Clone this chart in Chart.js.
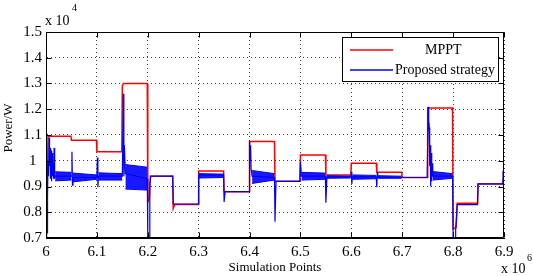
<!DOCTYPE html>
<html><head><meta charset="utf-8">
<script src="https://cdn.jsdelivr.net/npm/chart.js@4.4.1/dist/chart.umd.min.js"></script>
<style>html,body{margin:0;padding:0;background:#fff;overflow:hidden}</style>
</head><body>
<canvas id="c" width="533" height="276"></canvas>
<script>
// ---- data (x in units of 1e6 simulation points, y in units of 1e4 W) ----
const xTicks = [6.0, 6.1, 6.2, 6.3, 6.4, 6.5, 6.6, 6.7, 6.8, 6.9];
const yTicks = [0.7, 0.8, 0.9, 1.0, 1.1, 1.2, 1.3, 1.4, 1.5];
const seriesNames = ['MPPT', 'Proposed strategy'];
const xTitle = 'Simulation Points';
const yTitle = 'Power/W';

const mpptX = [6.002, 6.004, 6.049, 6.050, 6.099, 6.100, 6.149, 6.150, 6.152, 6.199,
               6.200, 6.203, 6.205, 6.249, 6.250, 6.253, 6.299, 6.300, 6.349, 6.350,
               6.399, 6.400, 6.449, 6.450, 6.499, 6.500, 6.549, 6.550, 6.599, 6.600,
               6.649, 6.650, 6.699, 6.700, 6.749, 6.750, 6.799, 6.800, 6.806, 6.808,
               6.848, 6.849, 6.897, 6.899, 6.900];
const mpptY = [0.88, 1.095, 1.095, 1.08, 1.08, 1.035, 1.035, 1.29, 1.30, 1.30,
               0.84, 0.85, 0.94, 0.94, 0.815, 0.83, 0.83, 0.96, 0.96, 0.88,
               0.88, 1.075, 1.075, 0.92, 0.92, 1.022, 1.022, 0.945, 0.945, 0.99,
               0.99, 0.955, 0.955, 0.935, 0.935, 1.205, 1.205, 0.735, 0.74, 0.835,
               0.835, 0.91, 0.91, 0.93, 0.93];

const propX = [6.000, 6.001, 6.0015, 6.002, 6.003, 6.004, 6.005, 6.006, 6.007, 6.008,
               6.009, 6.010, 6.011, 6.012, 6.013, 6.014, 6.015, 6.016, 6.017, 6.018,
               6.050, 6.051, 6.052, 6.053, 6.100, 6.101, 6.102, 6.103, 6.150, 6.152,
               6.153, 6.154, 6.156, 6.199, 6.200, 6.203, 6.204, 6.206, 6.249, 6.250,
               6.299, 6.300, 6.349, 6.350, 6.352, 6.399, 6.400, 6.401, 6.402, 6.403,
               6.405, 6.449, 6.450, 6.452, 6.499, 6.500, 6.502, 6.549, 6.550, 6.552,
               6.599, 6.600, 6.601, 6.602, 6.649, 6.650, 6.651, 6.652, 6.700, 6.749,
               6.751, 6.752, 6.753, 6.754, 6.755, 6.756, 6.757, 6.758, 6.759, 6.760,
               6.799, 6.800, 6.804, 6.805, 6.806, 6.808, 6.848, 6.849, 6.897, 6.898,
               6.900];
const propY = [0.70, 0.70, 1.02, 0.72, 0.86, 1.00, 0.94, 1.09, 0.98, 1.05,
               0.93, 1.04, 0.92, 1.03, 0.94, 0.99, 0.93, 1.05, 0.93, 0.94,
               0.94, 1.035, 0.905, 0.935, 0.935, 1.013, 0.897, 0.94, 0.94, 1.26,
               0.94, 1.06, 0.95, 0.93, 0.70, 0.70, 0.905, 0.94, 0.94, 0.832,
               0.832, 0.945, 0.945, 0.84, 0.88, 0.88, 1.078, 1.00, 1.06, 0.97,
               0.94, 0.935, 0.763, 0.92, 0.92, 0.996, 0.94, 0.94, 0.837, 0.937,
               0.937, 0.957, 0.91, 0.937, 0.937, 0.897, 0.955, 0.937, 0.935, 0.935,
               1.21, 1.12, 1.13, 0.98, 1.06, 0.90, 1.03, 0.92, 0.99, 0.94,
               0.94, 0.70, 0.70, 0.74, 0.76, 0.83, 0.83, 0.91, 0.91, 0.96,
               0.93];

// oscillation envelopes of the proposed strategy (start/end of each band)
const bandStart   = [6.018, 6.053, 6.103, 6.156, 6.300, 6.405, 6.502, 6.552, 6.602, 6.652, 6.760];
const bandEnd     = [6.050, 6.100, 6.150, 6.199, 6.349, 6.449, 6.549, 6.599, 6.649, 6.699, 6.799];
const bandHiStart = [0.957, 0.952, 0.953, 0.985, 0.950, 0.962, 0.955, 0.942, 0.945, 0.942, 0.958];
const bandHiEnd   = [0.955, 0.945, 0.950, 0.975, 0.948, 0.950, 0.952, 0.940, 0.943, 0.940, 0.950];
const bandLoStart = [0.922, 0.918, 0.925, 0.890, 0.933, 0.912, 0.925, 0.932, 0.928, 0.932, 0.925];
const bandLoEnd   = [0.925, 0.928, 0.925, 0.886, 0.935, 0.925, 0.928, 0.933, 0.930, 0.932, 0.932];

// ---- build ----
const SERIF = '"Liberation Serif", "Times New Roman", serif';
const RED = '#ff0000', BLUE = '#0000ff';
const pts = (xs, ys) => xs.map((x, i) => ({x: x, y: ys[i]}));
const fmt = v => String(Number(v.toFixed(2)));

const datasets = [
  {label: seriesNames[0], data: pts(mpptX, mpptY), borderColor: RED, borderWidth: 1.5, order: 3},
  {label: seriesNames[1], data: pts(propX, propY), borderColor: BLUE, borderWidth: 1.2, order: 1}
];
bandStart.forEach((s, i) => {
  datasets.push({label: '_hi' + i, data: [{x: s, y: bandHiStart[i]}, {x: bandEnd[i], y: bandHiEnd[i]}],
    borderColor: BLUE, borderWidth: 1, fill: false, order: 2});
  datasets.push({label: '_lo' + i, data: [{x: s, y: bandLoStart[i]}, {x: bandEnd[i], y: bandLoEnd[i]}],
    borderColor: BLUE, borderWidth: 1, fill: '-1', backgroundColor: 'rgba(0,0,255,0.9)', order: 2});
});

const deco = {
  id: 'deco',
  afterDatasetsDraw(chart) {
    const {ctx, chartArea: a, scales: {x, y}} = chart;
    ctx.save();
    ctx.strokeStyle = '#000';
    ctx.lineWidth = 1;
    const L = Math.round(a.left) + 0.5, R = Math.round(a.right) - 0.5;
    const T = Math.round(a.top) + 0.5, B = Math.round(a.bottom) - 0.5;
    ctx.beginPath();
    ctx.rect(L, T, R - L, B - T);
    x.ticks.forEach(t => {
      const p = Math.round(x.getPixelForValue(t.value)) + 0.5;
      ctx.moveTo(p, B); ctx.lineTo(p, B - 5);
      ctx.moveTo(p, T); ctx.lineTo(p, T + 5);
    });
    y.ticks.forEach(t => {
      const p = Math.round(y.getPixelForValue(t.value)) + 0.5;
      ctx.moveTo(L, p); ctx.lineTo(L + 5, p);
      ctx.moveTo(R, p); ctx.lineTo(R - 5, p);
    });
    ctx.stroke();

    // legend
    const lx = 342.5, ly = 37.5, lw = 156, lh = 44;
    ctx.fillStyle = '#fff';
    ctx.fillRect(lx, ly, lw, lh);
    ctx.strokeRect(lx, ly, lw, lh);
    ctx.lineWidth = 1.5;
    ctx.strokeStyle = RED;
    ctx.beginPath(); ctx.moveTo(350, 50); ctx.lineTo(393, 50); ctx.stroke();
    ctx.strokeStyle = BLUE;
    ctx.beginPath(); ctx.moveTo(350, 70); ctx.lineTo(393, 70); ctx.stroke();
    ctx.fillStyle = '#000';
    ctx.font = '14px ' + SERIF;
    ctx.textBaseline = 'middle';
    ctx.textAlign = 'left';
    ctx.fillText(chart.data.datasets[0].label, 425, 50);
    ctx.fillText(chart.data.datasets[1].label, 395, 70);

    // exponents
    ctx.textBaseline = 'alphabetic';
    ctx.font = '14px ' + SERIF;
    ctx.fillText('x 10', 45, 25);
    ctx.fillText('x 10', 501, 273);
    ctx.font = '10px ' + SERIF;
    ctx.fillText('4', 72, 11);
    ctx.fillText('6', 527, 261);

    // y title
    ctx.font = '13px ' + SERIF;
    ctx.translate(9, 128);
    ctx.rotate(-Math.PI / 2);
    ctx.textAlign = 'center';
    ctx.textBaseline = 'middle';
    ctx.fillText(yTitle, 0, 0);
    ctx.restore();
  }
};

new Chart(document.getElementById('c'), {
  type: 'line',
  data: {datasets},
  plugins: [deco],
  options: {
    responsive: false,
    animation: false,
    devicePixelRatio: 1,
    layout: {padding: {left: 0, right: 29, top: 32, bottom: 0}},
    elements: {point: {radius: 0}, line: {tension: 0, fill: false}},
    plugins: {legend: {display: false}, tooltip: {enabled: false}},
    scales: {
      x: {
        type: 'linear', min: 6.0, max: 6.9,
        afterBuildTicks: s => { s.ticks = xTicks.map(v => ({value: v})); },
        afterFit: s => { s.height = 38; },
        ticks: {font: {family: SERIF, size: 15}, color: '#000', padding: 5, maxRotation: 0, autoSkip: false, callback: v => fmt(v)},
        grid: {color: 'rgba(0,0,0,0.75)', lineWidth: 1, drawTicks: false},
        border: {display: true, color: '#000', dash: [1, 3]},
        title: {display: true, text: xTitle, font: {family: SERIF, size: 13}, color: '#000', padding: {top: 0, bottom: 1}}
      },
      y: {
        type: 'linear', min: 0.7, max: 1.5,
        afterBuildTicks: s => { s.ticks = yTicks.map(v => ({value: v})); },
        afterFit: s => { s.width = 46; },
        ticks: {font: {family: SERIF, size: 15}, color: '#000', padding: 4, crossAlign: 'center', autoSkip: false, callback: v => fmt(v)},
        grid: {color: 'rgba(0,0,0,0.75)', lineWidth: 1, drawTicks: false},
        border: {display: true, color: '#000', dash: [1, 3]}
      }
    }
  }
});
</script>
</body></html>
